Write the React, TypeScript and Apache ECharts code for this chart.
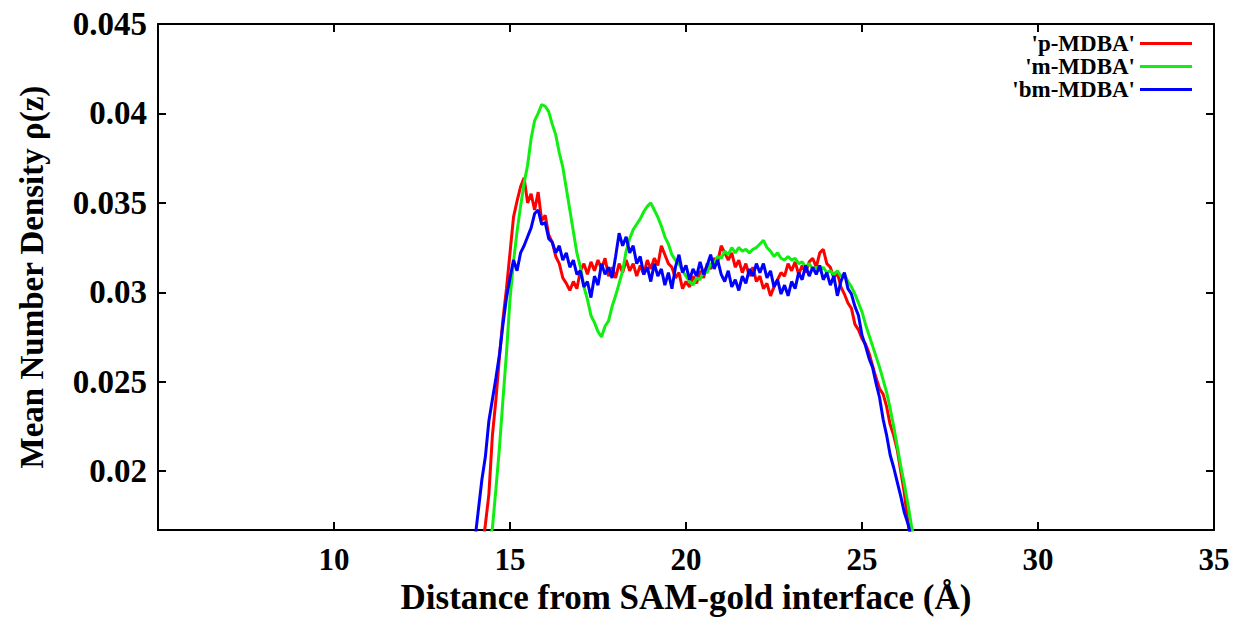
import React, { useEffect, useRef } from "react";
import * as echarts from "echarts";

const distance = [
  14.0, 14.1, 14.2, 14.3, 14.4, 14.5, 14.6, 14.7, 14.8, 14.9,
  15.0, 15.1, 15.2, 15.3, 15.4, 15.5, 15.6, 15.7, 15.8, 15.9,
  16.0, 16.1, 16.2, 16.3, 16.4, 16.5, 16.6, 16.7, 16.8, 16.9,
  17.0, 17.1, 17.2, 17.3, 17.4, 17.5, 17.6, 17.7, 17.8, 17.9,
  18.0, 18.1, 18.2, 18.3, 18.4, 18.5, 18.6, 18.7, 18.8, 18.9,
  19.0, 19.1, 19.2, 19.3, 19.4, 19.5, 19.6, 19.7, 19.8, 19.9,
  20.0, 20.1, 20.2, 20.3, 20.4, 20.5, 20.6, 20.7, 20.8, 20.9,
  21.0, 21.1, 21.2, 21.3, 21.4, 21.5, 21.6, 21.7, 21.8, 21.9,
  22.0, 22.1, 22.2, 22.3, 22.4, 22.5, 22.6, 22.7, 22.8, 22.9,
  23.0, 23.1, 23.2, 23.3, 23.4, 23.5, 23.6, 23.7, 23.8, 23.9,
  24.0, 24.1, 24.2, 24.3, 24.4, 24.5, 24.6, 24.7, 24.8, 24.9,
  25.0, 25.1, 25.2, 25.3, 25.4, 25.5, 25.6, 25.7, 25.8, 25.9,
  26.0, 26.1, 26.2, 26.3, 26.4, 26.5, 26.6,
];

const pMDBA = [
  0.0125, 0.0140, 0.0156, 0.0170, 0.0187, 0.0220, 0.0240, 0.0264, 0.0285, 0.0302,
  0.0322, 0.0342, 0.0351, 0.0359, 0.0364, 0.0350, 0.0355, 0.0346, 0.0356, 0.0340,
  0.0343, 0.0332, 0.0328, 0.0320, 0.0316, 0.0308, 0.0305, 0.0301, 0.0306, 0.0302,
  0.0312, 0.0316, 0.0310, 0.0317, 0.0312, 0.0318, 0.0313, 0.0319, 0.0309, 0.0314,
  0.0308, 0.0316, 0.0311, 0.0318, 0.0312, 0.0316, 0.0309, 0.0315, 0.0310, 0.0318,
  0.0313, 0.0319, 0.0315, 0.0326, 0.0321, 0.0316, 0.0314, 0.0308, 0.0311, 0.0302,
  0.0306, 0.0303, 0.0309, 0.0305, 0.0312, 0.0308, 0.0316, 0.0313, 0.0319, 0.0317,
  0.0326, 0.0322, 0.0318, 0.0322, 0.0314, 0.0318, 0.0311, 0.0316, 0.0309, 0.0314,
  0.0306, 0.0309, 0.0302, 0.0305, 0.0298, 0.0303, 0.0307, 0.0311, 0.0309, 0.0316,
  0.0312, 0.0317, 0.0310, 0.0315, 0.0311, 0.0317, 0.0319, 0.0314, 0.0322, 0.0324,
  0.0316, 0.0314, 0.0308, 0.0311, 0.0303, 0.0299, 0.0294, 0.0291, 0.0282, 0.0279,
  0.0274, 0.0271, 0.0266, 0.0259, 0.0252, 0.0246, 0.0243, 0.0236, 0.0226, 0.0220,
  0.0212, 0.0200, 0.0188, 0.0172, 0.0160, 0.0150, 0.0140,
];

const mMDBA = [
  0.0110, 0.0122, 0.0135, 0.0148, 0.0160, 0.0168, 0.0190, 0.0213, 0.0240, 0.0266,
  0.0296, 0.0317, 0.0334, 0.0348, 0.0361, 0.0371, 0.0386, 0.0396, 0.0400, 0.0405,
  0.0404, 0.0401, 0.0394, 0.0388, 0.0378, 0.0370, 0.0358, 0.0346, 0.0334, 0.0322,
  0.0314, 0.0303, 0.0296, 0.0287, 0.0283, 0.0278, 0.0275, 0.0281, 0.0284, 0.0292,
  0.0298, 0.0305, 0.0312, 0.0323, 0.0330, 0.0335, 0.0338, 0.0341, 0.0345, 0.0348,
  0.0350, 0.0346, 0.0342, 0.0337, 0.0331, 0.0327, 0.0321, 0.0318, 0.0316, 0.0312,
  0.0309, 0.0306, 0.0304, 0.0308, 0.0307, 0.0312, 0.0311, 0.0316, 0.0316, 0.0320,
  0.0319, 0.0323, 0.0321, 0.0325, 0.0322, 0.0325, 0.0323, 0.0324, 0.0322, 0.0324,
  0.0325, 0.0327, 0.0329, 0.0325, 0.0323, 0.0320, 0.0322, 0.0319, 0.0318, 0.0320,
  0.0318, 0.0319, 0.0316, 0.0317, 0.0314, 0.0316, 0.0313, 0.0314, 0.0312, 0.0314,
  0.0311, 0.0312, 0.0310, 0.0312, 0.0309, 0.0310, 0.0306, 0.0303, 0.0299, 0.0294,
  0.0289, 0.0282, 0.0276, 0.0270, 0.0264, 0.0258, 0.0251, 0.0244, 0.0235, 0.0225,
  0.0214, 0.0203, 0.0193, 0.0182, 0.0170, 0.0160, 0.0150,
];

const bmMDBA = [
  0.0161, 0.0178, 0.0195, 0.0208, 0.0228, 0.0240, 0.0252, 0.0265, 0.0282, 0.0297,
  0.0308, 0.0318, 0.0312, 0.0322, 0.0326, 0.0331, 0.0336, 0.0344, 0.0346, 0.0338,
  0.0339, 0.0330, 0.0328, 0.0322, 0.0326, 0.0318, 0.0322, 0.0314, 0.0318, 0.0310,
  0.0312, 0.0303, 0.0306, 0.0297, 0.0309, 0.0304, 0.0316, 0.0310, 0.0314, 0.0308,
  0.0320, 0.0333, 0.0326, 0.0331, 0.0322, 0.0326, 0.0316, 0.0320, 0.0310, 0.0314,
  0.0306, 0.0316, 0.0309, 0.0313, 0.0304, 0.0311, 0.0302, 0.0314, 0.0321, 0.0311,
  0.0315, 0.0307, 0.0313, 0.0309, 0.0317, 0.0310, 0.0315, 0.0321, 0.0313, 0.0318,
  0.0310, 0.0306, 0.0312, 0.0303, 0.0307, 0.0301, 0.0309, 0.0305, 0.0313, 0.0309,
  0.0316, 0.0311, 0.0316, 0.0308, 0.0312, 0.0303, 0.0307, 0.0299, 0.0304, 0.0298,
  0.0306, 0.0302, 0.0311, 0.0307, 0.0315, 0.0309, 0.0314, 0.0310, 0.0315, 0.0307,
  0.0311, 0.0304, 0.0309, 0.0298, 0.0306, 0.0311, 0.0302, 0.0299, 0.0292, 0.0287,
  0.0276, 0.0270, 0.0263, 0.0258, 0.0249, 0.0241, 0.0229, 0.0220, 0.0209, 0.0202,
  0.0194, 0.0186, 0.0177, 0.0171, 0.0163, 0.0155, 0.0148,
];

const seriesNames = ["'p-MDBA'", "'m-MDBA'", "'bm-MDBA'"];
const seriesColors = ["#ff0000", "#11ee11", "#0000ff"];
const xTicks = [10, 15, 20, 25, 30, 35];
const yTicks = [0.02, 0.025, 0.03, 0.035, 0.04, 0.045];
const yTickLabels = ["0.02", "0.025", "0.03", "0.035", "0.04", "0.045"];

const FONT = "'Liberation Serif', 'Times New Roman', serif";

export default function App() {
  const ref = useRef<HTMLDivElement>(null);
  useEffect(() => {
    if (!ref.current) return;
    const chart = echarts.init(ref.current, undefined, { renderer: "svg" });
    const allData = [pMDBA, mMDBA, bmMDBA];
    const tickStyle = { inside: true, length: 8, lineStyle: { color: "#000", width: 2 } };
    const lineStyleAxis = { show: true, lineStyle: { color: "#000", width: 2 } };
    chart.setOption({
      animation: false,
      backgroundColor: "#fff",
      grid: { left: 158, right: 22, top: 24, bottom: 88, containLabel: false },
      legend: {
        data: seriesNames,
        orient: "vertical",
        right: 39,
        top: 27,
        align: "right",
        itemGap: 0,
        itemWidth: 52,
        itemHeight: 3,
        icon: "rect",
        textStyle: {
          fontFamily: FONT,
          fontWeight: "bold",
          fontSize: 23,
          color: "#000",
        },
      },
      xAxis: [
        {
          type: "value",
          min: 5,
          max: 35,
          interval: 5,
          name: "Distance from SAM-gold interface (Å)",
          nameLocation: "middle",
          nameGap: 41,
          nameTextStyle: { fontFamily: FONT, fontWeight: "bold", fontSize: 35, color: "#000" },
          axisLine: lineStyleAxis,
          axisTick: { ...tickStyle, customValues: xTicks },
          axisLabel: {
            customValues: xTicks,
            margin: 14,
            fontFamily: FONT,
            fontWeight: "bold",
            fontSize: 31,
            color: "#000",
          },
          splitLine: { show: false },
        },
        {
          type: "value",
          position: "top",
          min: 5,
          max: 35,
          interval: 5,
          axisLine: lineStyleAxis,
          axisTick: { ...tickStyle, customValues: xTicks },
          axisLabel: { show: false },
          splitLine: { show: false },
        },
      ],
      yAxis: [
        {
          type: "value",
          min: 0.0167,
          max: 0.045,
          name: "Mean Number Density ρ(z)",
          nameLocation: "middle",
          nameGap: 110,
          nameTextStyle: { fontFamily: FONT, fontWeight: "bold", fontSize: 33, color: "#000" },
          axisLine: lineStyleAxis,
          axisTick: { ...tickStyle, customValues: yTicks },
          axisLabel: {
            customValues: yTicks,
            formatter: (v: number) => {
              const i = yTicks.findIndex((t) => Math.abs(t - v) < 1e-9);
              return i >= 0 ? yTickLabels[i] : "";
            },
            margin: 11,
            fontFamily: FONT,
            fontWeight: "bold",
            fontSize: 33,
            color: "#000",
          },
          splitLine: { show: false },
        },
        {
          type: "value",
          position: "right",
          min: 0.0167,
          max: 0.045,
          axisLine: lineStyleAxis,
          axisTick: { ...tickStyle, customValues: yTicks },
          axisLabel: { show: false },
          splitLine: { show: false },
        },
      ],
      series: seriesNames.map((name, k) => ({
        name,
        type: "line",
        xAxisIndex: 0,
        yAxisIndex: 0,
        showSymbol: false,
        symbol: "none",
        clip: true,
        color: seriesColors[k],
        lineStyle: { color: seriesColors[k], width: 3 },
        data: distance.map((d, i) => [d, allData[k][i]]),
      })),
    });
    return () => chart.dispose();
  }, []);
  return (
    <div
      ref={ref}
      style={{ position: "fixed", left: 0, top: 0, width: 1236, height: 620, background: "#fff" }}
    />
  );
}
